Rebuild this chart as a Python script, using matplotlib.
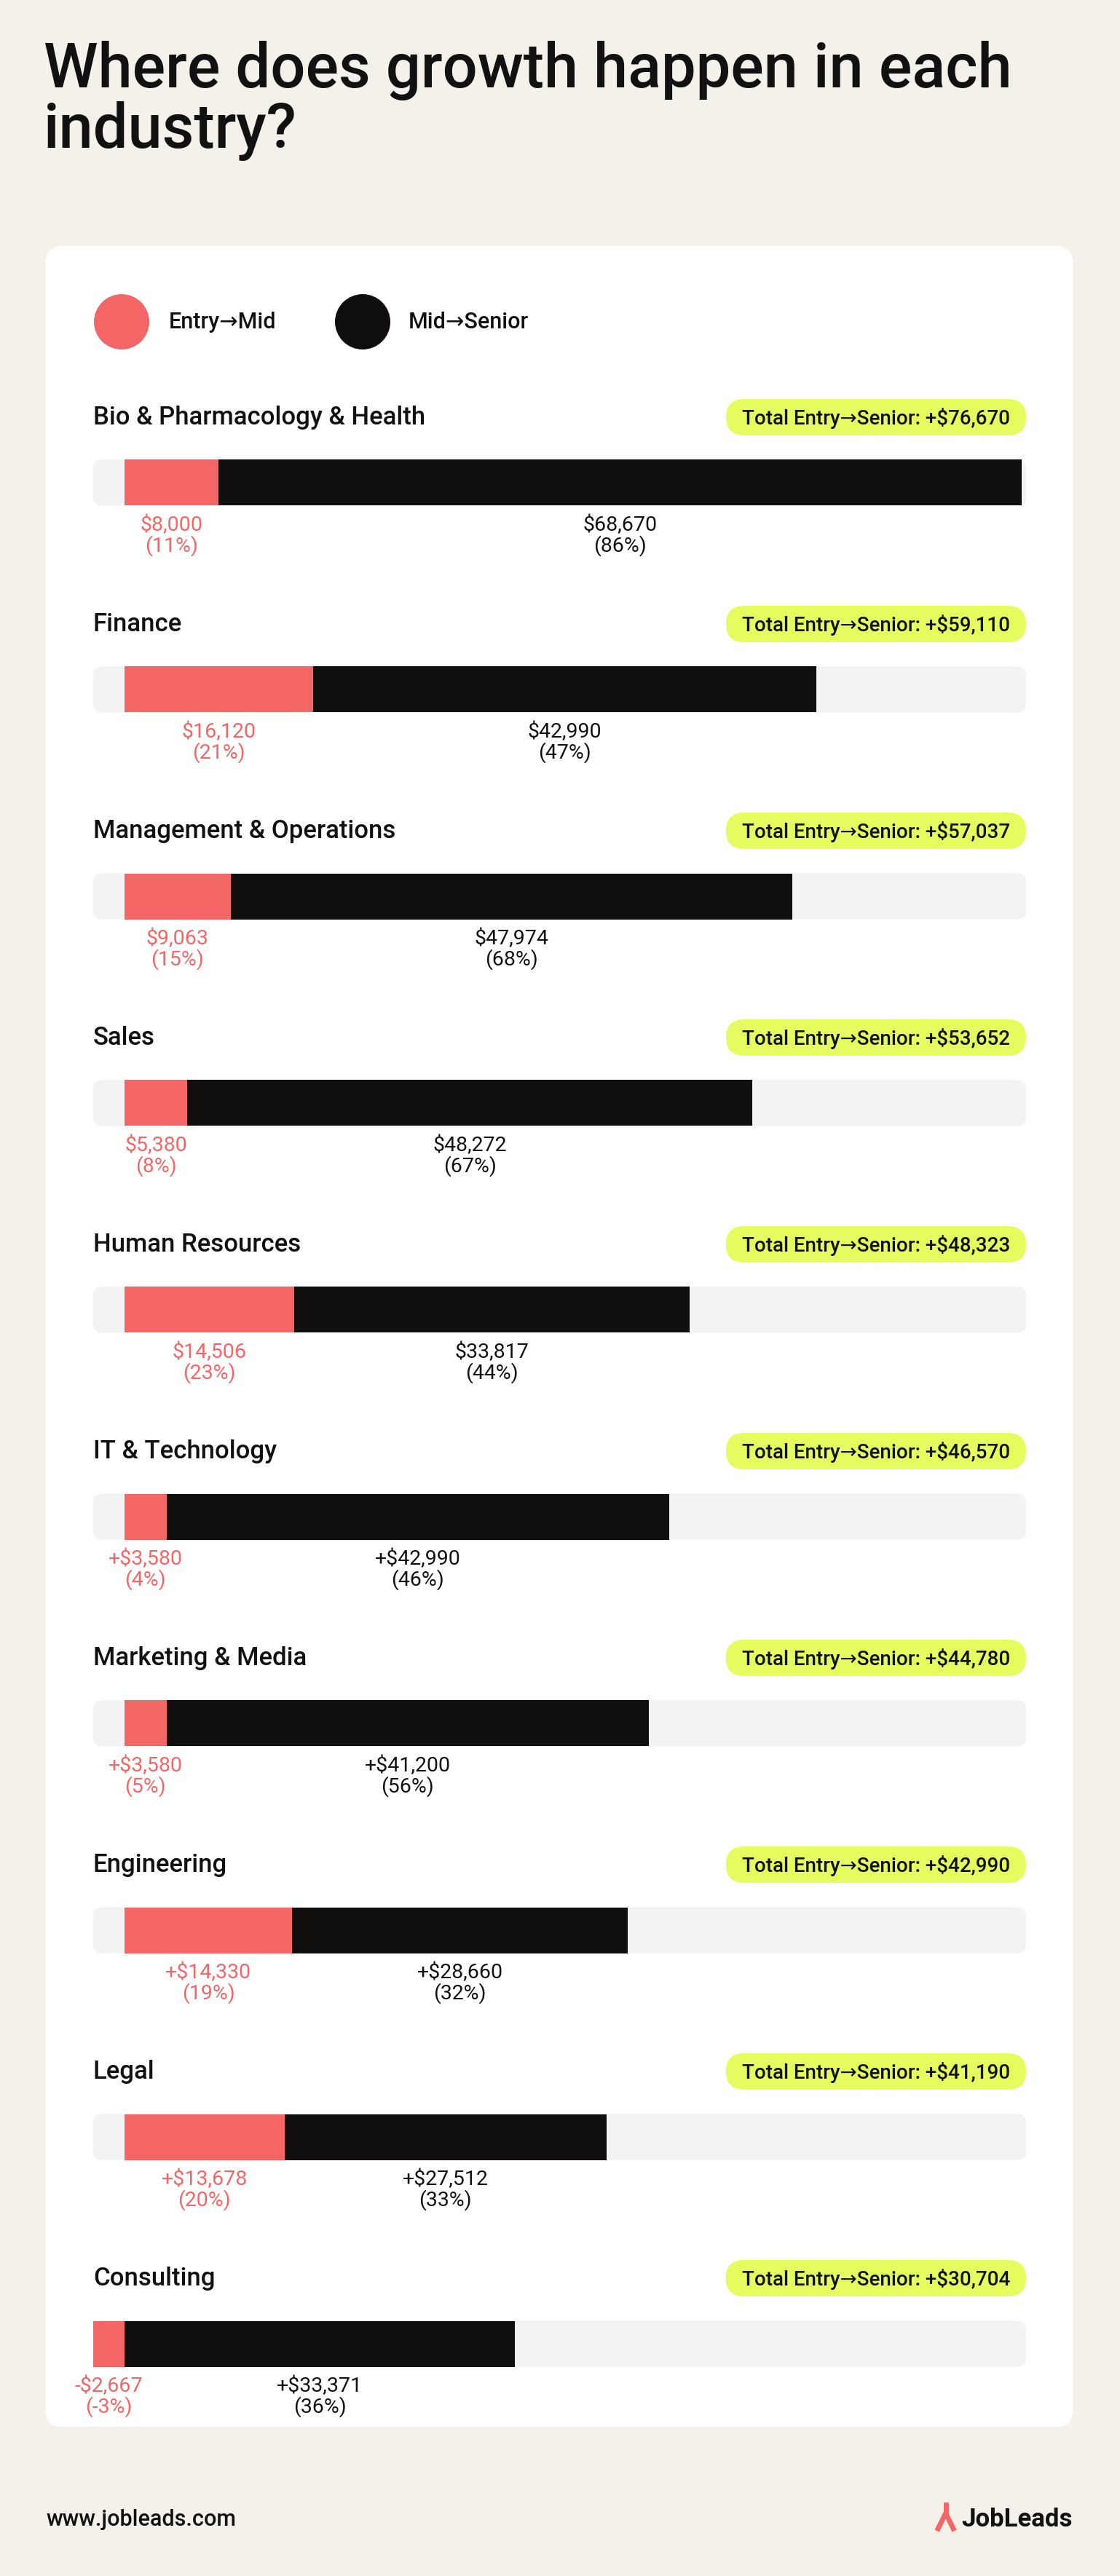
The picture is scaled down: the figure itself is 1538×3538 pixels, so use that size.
import matplotlib
matplotlib.use("Agg")
import matplotlib.pyplot as plt
from matplotlib.patches import FancyBboxPatch, Circle
import matplotlib.transforms as mtrans

categories = ["Bio & Pharmacology & Health", "Finance", "Management & Operations", "Sales",
              "Human Resources", "IT & Technology", "Marketing & Media", "Engineering",
              "Legal", "Consulting"]
entry_mid = [8000, 16120, 9063, 5380, 14506, 3580, 3580, 14330, 13678, -2667]
mid_senior = [68670, 42990, 47974, 48272, 33817, 42990, 41200, 28660, 27512, 33371]
totals = [76670, 59110, 57037, 53652, 48323, 46570, 44780, 42990, 41190, 30704]
entry_labels = ["$8,000\n(11%)", "$16,120\n(21%)", "$9,063\n(15%)", "$5,380\n(8%)",
                "$14,506\n(23%)", "+$3,580\n(4%)", "+$3,580\n(5%)", "+$14,330\n(19%)",
                "+$13,678\n(20%)", "-$2,667\n(-3%)"]
mid_labels = ["$68,670\n(86%)", "$42,990\n(47%)", "$47,974\n(68%)", "$48,272\n(67%)",
              "$33,817\n(44%)", "+$42,990\n(46%)", "+$41,200\n(56%)", "+$28,660\n(32%)",
              "+$27,512\n(33%)", "+$33,371\n(36%)"]

W, H = 1538, 3538
BG = "#F4F1EA"; PINK = "#F46665"; BLACK = "#100F0D"; TRACK = "#F3F3F3"; LIME = "#E6FC5E"
FONT = ["Roboto", "DejaVu Sans"]

fig = plt.figure(figsize=(W/100, H/100), dpi=100, facecolor=BG)
bg = fig.add_axes([0, 0, 1, 1]); bg.set_xlim(0, W); bg.set_ylim(H, 0); bg.axis("off")
renderer = fig.canvas.get_renderer()

def fx(x): return x / W
def fy(y): return 1 - y / H

bg.text(60, 56, "Where does growth happen in each\nindustry?", fontsize=61, family=FONT,
        va="top", ha="left", color="#111", linespacing=1.02, weight="medium")
bg.add_patch(FancyBboxPatch((63, 338), 1410, 2995, boxstyle="round,pad=0,rounding_size=22",
                            fc="white", ec="none"))
# legend
bg.add_patch(Circle((167, 442), 38, fc=PINK, ec="none"))
bg.text(232, 442, "Entry→Mid", fontsize=22, family=FONT, va="center", color="#111", weight="medium")
bg.add_patch(Circle((498, 442), 38, fc=BLACK, ec="none"))
bg.text(561, 442, "Mid→Senior", fontsize=22, family=FONT, va="center", color="#111", weight="medium")

px_per = (1403 - 171) / 76670.0
track_l, track_r, zero_px = 128, 1409, 171
xmin = -(zero_px - track_l) / px_per
xmax = (track_r - zero_px) / px_per
bar_h = 63
for i, cat in enumerate(categories):
    ly = 573 + i * 284
    by = 663 + i * 284
    bg.text(128, ly, cat, fontsize=25, family=FONT, va="center", ha="left", color="#111",
            weight="medium")
    ptxt = f"Total Entry→Senior: +${totals[i]:,}"
    t = bg.text(1409 - 22, ly + 1, ptxt, fontsize=20, family=FONT, va="center", ha="right",
                color="#111", zorder=3, weight="medium")
    tw = t.get_window_extent(renderer).width
    pw = tw + 44
    bg.add_patch(FancyBboxPatch((1409 - pw, ly - 25), pw, 50,
                                boxstyle="round,pad=0,rounding_size=25", fc=LIME, ec="none", zorder=2))
    bg.add_patch(FancyBboxPatch((track_l, by - bar_h/2), track_r - track_l, bar_h,
                                boxstyle="round,pad=0,rounding_size=12", fc=TRACK, ec="none"))
    ax = fig.add_axes([fx(track_l), fy(by + bar_h/2), (track_r - track_l)/W, bar_h/H])
    ax.set_xlim(xmin, xmax); ax.set_ylim(-0.5, 0.5); ax.axis("off")
    ax.patch.set_alpha(0)
    ax.barh(0, entry_mid[i], left=0, height=1.0, color=PINK)
    ax.barh(0, mid_senior[i], left=max(entry_mid[i], 0), height=1.0, color=BLACK)
    tr = mtrans.blended_transform_factory(ax.transData, ax.transAxes)
    ax.text(entry_mid[i] / 2, -0.2, entry_labels[i], transform=tr, ha="center", va="top",
            fontsize=20.5, family=FONT, color=PINK, linespacing=1.05, clip_on=False)
    s = max(entry_mid[i], 0)
    ax.text(s + mid_senior[i] / 2, -0.2, mid_labels[i], transform=tr, ha="center", va="top",
            fontsize=20.5, family=FONT, color="#111", linespacing=1.05, clip_on=False)

# footer
bg.text(63, 3460, "www.jobleads.com", fontsize=22, family=FONT, va="center", ha="left",
        color="#111", weight="medium")
lt = bg.text(1473, 3460, "JobLeads", fontsize=25, family=FONT, va="center", ha="right",
             color="#111", weight="bold")
lw_ = lt.get_window_extent(renderer).width
ix = 1473 - lw_ - 22
bg.plot([ix - 12, ix, ix + 12], [3476, 3452, 3476], color=PINK, lw=5, solid_capstyle="butt")
bg.plot([ix, ix], [3452, 3440], color=PINK, lw=5)

fig.savefig("out.png", dpi=100, facecolor=BG)
